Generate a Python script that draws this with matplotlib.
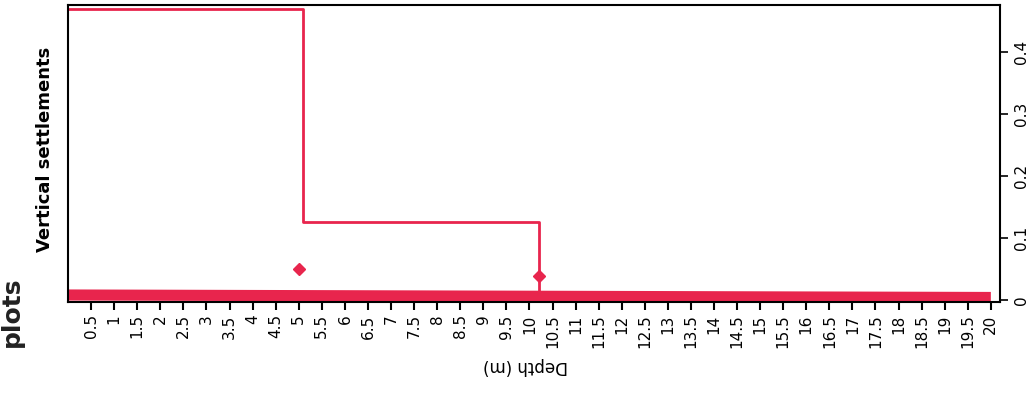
import numpy as np
import matplotlib
matplotlib.use("Agg")
import matplotlib.pyplot as plt

# step profile of vertical settlement vs depth
depth = [0, 5.1, 5.1, 10.2, 10.2]
settlement = [0.47, 0.47, 0.126, 0.126, 0.0]
# thick base line
base_depth = [0, 20]
base_settl = [0.008, 0.004]
# point markers
mark_depth = [5.0, 10.2]
mark_settl = [0.05, 0.038]

xticks = np.arange(0.5, 20.01, 0.5)
xlabels = ["{:g}".format(t) for t in xticks]
yticks = [0, 0.1, 0.2, 0.3, 0.4]

red = "#e8254d"

fig = plt.figure(figsize=(10.31, 3.94), dpi=100)
ax = fig.add_axes([0.066, 0.234, 0.904, 0.753])

ax.plot(depth, settlement, color=red, lw=2)
ax.plot(base_depth, base_settl, color=red, lw=8, solid_capstyle="butt")
ax.plot(mark_depth, mark_settl, ls="none", marker="D", color=red, ms=6)

ax.set_xlim(0, 20.2)
ax.set_ylim(-0.003, 0.476)

ax.set_xticks(xticks)
ax.set_xticklabels(xlabels, rotation=90, fontsize=11)
ax.tick_params(axis="x", direction="out", length=6, width=1.5, pad=3)

ax.yaxis.tick_right()
ax.set_yticks(yticks)
ax.set_yticklabels(["{:g}".format(t) for t in yticks], rotation=90, va="center", fontsize=11)
ax.tick_params(axis="y", direction="out", length=6, width=1.2, pad=4)

for s in ax.spines.values():
    s.set_linewidth(1.5)

fig.text(0.51, 0.072, "Depth (m)", rotation=180, ha="center", va="center", fontsize=12)
fig.text(0.044, 0.62, "Vertical settlements", rotation=90, ha="center", va="center",
         fontsize=13, fontweight="bold")
fig.text(0.012, 0.21, "plots", rotation=90, ha="center", va="center",
         fontsize=18, fontweight="bold", color="#222222")

fig.savefig("out.png", dpi=100)
